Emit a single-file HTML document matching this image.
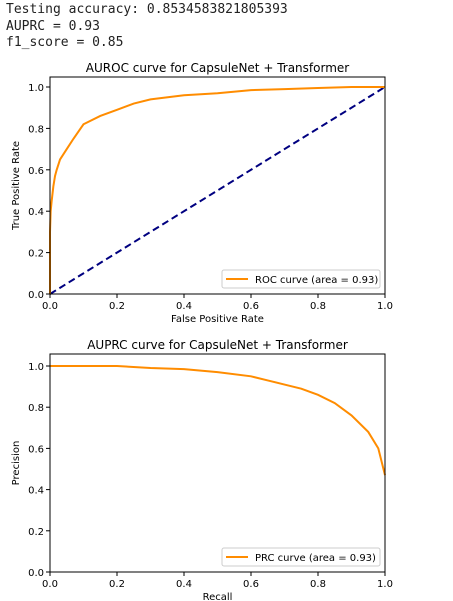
<!DOCTYPE html>
<html><head><meta charset="utf-8"><style>
body{margin:0;background:#fff;width:453px;height:601px;overflow:hidden}
pre{margin:0;position:absolute;left:6px;top:2px;font-family:"DejaVu Sans Mono","Liberation Mono",monospace;font-size:13px;line-height:16.5px;color:#222}
svg{position:absolute;left:0;top:0}
text{font-family:"DejaVu Sans","Liberation Sans",sans-serif;fill:#000}
</style></head><body>
<pre>Testing accuracy: 0.8534583821805393
AUPRC = 0.93
f1_score = 0.85</pre>
<svg id="s" width="453" height="601"></svg>
<script>
const xTicks=[0,0.2,0.4,0.6,0.8,1.0];
const yTicks=[0,0.2,0.4,0.6,0.8,1.0];
const rocFpr=[0,0,0.002,0.005,0.01,0.015,0.02,0.03,0.05,0.07,0.1,0.15,0.2,0.25,0.3,0.4,0.5,0.6,0.7,0.8,0.9,1];
const rocTpr=[0,0.3,0.4,0.45,0.52,0.57,0.6,0.65,0.7,0.75,0.82,0.86,0.89,0.92,0.94,0.96,0.97,0.985,0.99,0.995,1,1];
const prcRecall=[0,0.2,0.3,0.4,0.5,0.6,0.65,0.7,0.75,0.8,0.85,0.9,0.95,0.98,1];
const prcPrecision=[1,1,0.99,0.985,0.97,0.95,0.93,0.91,0.89,0.86,0.82,0.76,0.68,0.6,0.47];
const S=document.getElementById('s');const NS='http://www.w3.org/2000/svg';
function mk(t,a,txt){const e=document.createElementNS(NS,t);for(const k in a)e.setAttribute(k,a[k]);if(txt!==undefined)e.textContent=txt;S.appendChild(e);return e;}
function chart(top,zeroY,unit,title,xl,yl,xs,ys,label,diag,legY,pfx){
 const L=50,R=385;const X=v=>L+v*(R-L);const Y=v=>zeroY-v*unit;
 let t=mk('text',{x:217.5,y:top-5,'text-anchor':'middle','font-size':12},title);
 
 if(diag){let d=mk('line',{x1:X(0),y1:Y(0),x2:X(1),y2:Y(1),stroke:'#000080','stroke-width':2,'stroke-dasharray':'7,4'});
  }
 let p=mk('polyline',{points:xs.map((v,i)=>X(v)+','+Y(ys[i])).join(' '),fill:'none',stroke:'#ff8c00','stroke-width':2});
 
 let f=mk('rect',{x:L,y:top,width:R-L,height:zeroY-top,fill:'none',stroke:'#000','stroke-width':1});
 
 xTicks.forEach(v=>{mk('line',{x1:X(v),y1:zeroY,x2:X(v),y2:zeroY+4,stroke:'#000'});
  let e=mk('text',{x:X(v),y:zeroY+15,'text-anchor':'middle','font-size':10},v.toFixed(1));
  });
 yTicks.forEach(v=>{mk('line',{x1:L-4,y1:Y(v),x2:L,y2:Y(v),stroke:'#000'});
  let e=mk('text',{x:L-6,y:Y(v)+4,'text-anchor':'end','font-size':10},v.toFixed(1));
  });
 let xa=mk('text',{x:217.5,y:zeroY+28,'text-anchor':'middle','font-size':10},xl);
 
 let cy=(top+zeroY)/2;let ya=mk('text',{x:19,y:cy,'text-anchor':'middle','font-size':10,transform:'rotate(-90 19 '+cy+')'},yl);
 
 let lg=mk('rect',{x:222,y:legY,width:158,height:18,fill:'#fff',stroke:'#ccc',rx:2});
 
 mk('line',{x1:226,y1:legY+9,x2:248,y2:legY+9,stroke:'#ff8c00','stroke-width':2});
 let lt=mk('text',{x:255,y:legY+13,'font-size':10},label);
 
}
chart(77,294,207,'AUROC curve for CapsuleNet + Transformer','False Positive Rate','True Positive Rate',rocFpr,rocTpr,'ROC curve (area = 0.93)',true,270,'roc');
chart(354,572,206,'AUPRC curve for CapsuleNet + Transformer','Recall','Precision',prcRecall,prcPrecision,'PRC curve (area = 0.93)',false,548,'prc');
</script>
</body></html>
